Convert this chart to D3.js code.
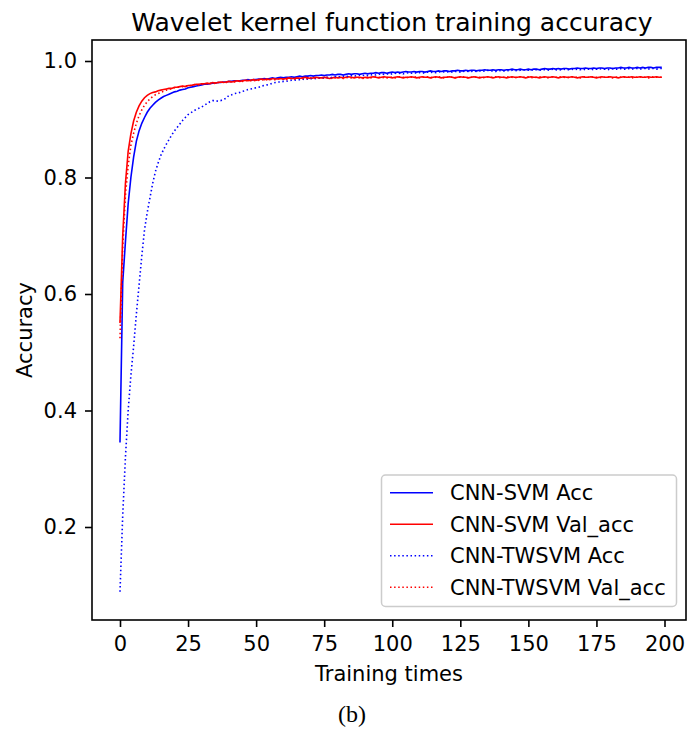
<!DOCTYPE html>
<html>
<head>
<meta charset="utf-8">
<script src="https://cdn.jsdelivr.net/npm/d3@7"></script>
<style>
  body { margin: 0; background: #fff; }
  text { font-family: "DejaVu Sans", sans-serif; fill: #000; }
</style>
</head>
<body>
<div class="chart"></div>
<script>
// epochs 0..199
let svmAcc = [
  0.345,0.620,0.690,0.755,0.800,0.835,0.862,0.880,0.893,0.903,
  0.912,0.919,0.924,0.929,0.933,0.936,0.939,0.941,0.943,0.945,
  0.947,0.948,0.950,0.951,0.952,0.954,0.955,0.956,0.957,0.958,
  0.959,0.960,0.960,0.961,0.962,0.962,0.963,0.963,0.964,0.964,
  0.965,0.965,0.966,0.966,0.966,0.967,0.967,0.968,0.967,0.968,
  0.968,0.969,0.969,0.970,0.969,0.970,0.971,0.970,0.971,0.972,
  0.971,0.972,0.972,0.973,0.972,0.973,0.974,0.973,0.974,0.974,
  0.975,0.974,0.975,0.975,0.976,0.975,0.976,0.976,0.977,0.976,
  0.977,0.977,0.976,0.977,0.978,0.977,0.978,0.978,0.977,0.978,
  0.979,0.978,0.979,0.979,0.980,0.979,0.980,0.980,0.979,0.980,
  0.981,0.980,0.981,0.980,0.981,0.982,0.981,0.981,0.982,0.981,
  0.982,0.982,0.981,0.982,0.983,0.982,0.982,0.983,0.982,0.983,
  0.983,0.982,0.983,0.983,0.984,0.983,0.983,0.984,0.983,0.984,
  0.984,0.983,0.984,0.984,0.985,0.984,0.984,0.985,0.984,0.985,
  0.985,0.984,0.985,0.985,0.986,0.985,0.985,0.986,0.985,0.985,
  0.986,0.985,0.986,0.986,0.985,0.986,0.987,0.986,0.986,0.987,
  0.986,0.987,0.986,0.987,0.987,0.986,0.987,0.987,0.988,0.987,
  0.987,0.988,0.987,0.987,0.988,0.987,0.988,0.988,0.987,0.988,
  0.988,0.987,0.988,0.988,0.989,0.988,0.988,0.989,0.988,0.988,
  0.989,0.988,0.989,0.988,0.989,0.989,0.988,0.989,0.989,0.989
]
let svmVal = [
  0.550,0.700,0.790,0.845,0.875,0.897,0.912,0.923,0.931,0.937,
  0.941,0.944,0.946,0.947,0.949,0.950,0.951,0.952,0.953,0.953,
  0.955,0.955,0.956,0.957,0.956,0.958,0.958,0.959,0.960,0.960,
  0.961,0.961,0.962,0.961,0.963,0.962,0.963,0.964,0.963,0.964,
  0.965,0.964,0.965,0.966,0.965,0.966,0.967,0.966,0.967,0.968,
  0.967,0.968,0.969,0.968,0.969,0.968,0.970,0.969,0.969,0.970,
  0.969,0.970,0.971,0.970,0.970,0.971,0.970,0.971,0.972,0.971,
  0.970,0.971,0.972,0.971,0.971,0.972,0.971,0.970,0.971,0.972,
  0.971,0.972,0.971,0.972,0.973,0.972,0.971,0.972,0.972,0.971,
  0.972,0.971,0.972,0.973,0.972,0.971,0.972,0.973,0.972,0.972,
  0.971,0.972,0.973,0.972,0.971,0.972,0.972,0.973,0.972,0.971,
  0.972,0.973,0.972,0.972,0.971,0.972,0.973,0.972,0.971,0.972,
  0.972,0.973,0.972,0.971,0.972,0.973,0.972,0.972,0.971,0.972,
  0.973,0.972,0.971,0.972,0.972,0.973,0.972,0.971,0.972,0.973,
  0.972,0.972,0.971,0.972,0.973,0.972,0.972,0.973,0.972,0.971,
  0.972,0.973,0.972,0.972,0.971,0.972,0.973,0.972,0.972,0.973,
  0.972,0.971,0.972,0.973,0.972,0.972,0.973,0.972,0.971,0.972,
  0.973,0.972,0.972,0.973,0.972,0.971,0.972,0.973,0.972,0.972,
  0.973,0.972,0.972,0.971,0.972,0.973,0.972,0.972,0.973,0.972,
  0.972,0.973,0.972,0.972,0.973,0.972,0.972,0.973,0.972,0.972
]
let twsvmAcc = [
  0.089,0.220,0.320,0.400,0.460,0.510,0.565,0.615,0.665,0.710,
  0.740,0.765,0.790,0.810,0.825,0.838,0.848,0.857,0.865,0.873,
  0.880,0.886,0.892,0.898,0.903,0.908,0.911,0.914,0.917,0.919,
  0.921,0.924,0.927,0.930,0.932,0.932,0.931,0.932,0.934,0.936,
  0.941,0.942,0.944,0.945,0.946,0.948,0.949,0.951,0.952,0.953,
  0.954,0.955,0.957,0.958,0.959,0.960,0.962,0.963,0.964,0.964,
  0.965,0.965,0.966,0.967,0.967,0.968,0.968,0.969,0.968,0.969,
  0.970,0.969,0.970,0.971,0.970,0.971,0.972,0.971,0.972,0.973,
  0.972,0.973,0.974,0.973,0.974,0.975,0.974,0.975,0.976,0.975,
  0.976,0.975,0.976,0.977,0.976,0.977,0.978,0.977,0.978,0.977,
  0.978,0.979,0.978,0.979,0.978,0.979,0.980,0.979,0.980,0.979,
  0.980,0.979,0.980,0.981,0.980,0.981,0.980,0.981,0.982,0.981,
  0.981,0.982,0.981,0.982,0.982,0.981,0.982,0.983,0.982,0.982,
  0.983,0.982,0.983,0.982,0.983,0.984,0.983,0.983,0.982,0.983,
  0.984,0.983,0.984,0.983,0.984,0.984,0.983,0.984,0.985,0.984,
  0.984,0.985,0.984,0.985,0.984,0.985,0.985,0.984,0.985,0.986,
  0.985,0.984,0.985,0.986,0.985,0.985,0.986,0.985,0.986,0.985,
  0.986,0.985,0.986,0.986,0.985,0.986,0.987,0.986,0.986,0.985,
  0.986,0.987,0.986,0.986,0.987,0.986,0.986,0.987,0.986,0.987,
  0.987,0.986,0.987,0.987,0.986,0.987,0.987,0.986,0.987,0.987
]
let twsvmVal = [
  0.524,0.680,0.770,0.820,0.855,0.876,0.893,0.906,0.916,0.924,
  0.930,0.935,0.939,0.942,0.944,0.946,0.948,0.950,0.951,0.953,
  0.954,0.955,0.955,0.956,0.957,0.958,0.958,0.959,0.960,0.959,
  0.960,0.961,0.961,0.962,0.961,0.962,0.963,0.963,0.964,0.963,
  0.964,0.965,0.964,0.965,0.966,0.965,0.966,0.967,0.966,0.967,
  0.966,0.967,0.968,0.967,0.968,0.969,0.968,0.968,0.969,0.970,
  0.969,0.968,0.969,0.970,0.969,0.970,0.971,0.970,0.969,0.970,
  0.971,0.970,0.971,0.971,0.970,0.971,0.972,0.971,0.970,0.971,
  0.972,0.971,0.970,0.971,0.972,0.971,0.972,0.972,0.971,0.970,
  0.971,0.972,0.971,0.972,0.973,0.972,0.971,0.972,0.971,0.972,
  0.972,0.971,0.972,0.973,0.972,0.971,0.972,0.972,0.973,0.972,
  0.971,0.972,0.972,0.973,0.972,0.971,0.972,0.973,0.972,0.971,
  0.972,0.973,0.972,0.971,0.972,0.972,0.973,0.972,0.971,0.972,
  0.973,0.972,0.972,0.971,0.972,0.973,0.972,0.972,0.973,0.972,
  0.971,0.972,0.973,0.972,0.972,0.971,0.972,0.973,0.972,0.972,
  0.973,0.972,0.971,0.972,0.973,0.972,0.972,0.971,0.972,0.973,
  0.972,0.972,0.973,0.972,0.971,0.972,0.973,0.972,0.972,0.971,
  0.972,0.973,0.972,0.972,0.973,0.972,0.971,0.972,0.972,0.973,
  0.972,0.971,0.972,0.973,0.972,0.972,0.973,0.972,0.971,0.972,
  0.972,0.973,0.972,0.972,0.971,0.972,0.973,0.972,0.972,0.972
]
let seriesNames = ["CNN-SVM Acc", "CNN-SVM Val_acc", "CNN-TWSVM Acc", "CNN-TWSVM Val_acc"]
let xTicks = [0, 25, 50, 75, 100, 125, 150, 175, 200]
let yTicks = [0.2, 0.4, 0.6, 0.8, 1.0]

let width = 687, height = 729
let box = { left: 92, right: 686, top: 40, bottom: 620 }
let fontSize = 21

let svg = d3.select(".chart")
  .append("svg")
  .attr("width", width)
  .attr("height", height)

let x = d3.scaleLinear().domain([0, 200]).range([120, 664.5])
let y = d3.scaleLinear().domain([0.2, 1.0]).range([527, 61])

let series = [
  { name: seriesNames[0], values: svmAcc, color: "#0000ff", dash: null },
  { name: seriesNames[1], values: svmVal, color: "#ff0000", dash: null },
  { name: seriesNames[2], values: twsvmAcc, color: "#0000ff", dash: "1.5,2.6" },
  { name: seriesNames[3], values: twsvmVal, color: "#ff0000", dash: "1.5,2.6" }
]

//裁剪区域
svg.append("clipPath").attr("id", "plot-clip")
  .append("rect")
  .attr("x", box.left).attr("y", box.top)
  .attr("width", box.right - box.left).attr("height", box.bottom - box.top)

let line = d3.line()
  .x((d, i) => x(i))
  .y((d) => y(d))

let lines = svg.append("g").attr("clip-path", "url(#plot-clip)")
lines.selectAll("path")
  .data(series)
  .enter()
  .append("path")
  .attr("d", (d) => line(d.values))
  .attr("fill", "none")
  .attr("stroke", (d) => d.color)
  .attr("stroke-width", 1.6)
  .attr("stroke-dasharray", (d) => d.dash)

//坐标轴
let xAxis = d3.axisBottom(x).tickValues(xTicks).tickSize(7).tickPadding(9).tickFormat(d3.format("d"))
let yAxis = d3.axisLeft(y).tickValues(yTicks).tickSize(7).tickPadding(8).tickFormat(d3.format(".1f"))

let gx = svg.append("g").attr("transform", `translate(0,${box.bottom})`).call(xAxis)
let gy = svg.append("g").attr("transform", `translate(${box.left},0)`).call(yAxis)
;[gx, gy].forEach((g) => {
  g.select(".domain").remove()
  g.selectAll(".tick line").attr("stroke", "#000").attr("stroke-width", 1.6)
  g.selectAll(".tick text").attr("font-size", fontSize).attr("font-family", "DejaVu Sans").attr("fill", "#000")
})

svg.append("rect")
  .attr("x", box.left).attr("y", box.top)
  .attr("width", box.right - box.left).attr("height", box.bottom - box.top)
  .attr("fill", "none")
  .attr("stroke", "#000")
  .attr("stroke-width", 1.6)

//标题和轴标签
svg.append("text")
  .attr("x", (box.left + box.right) / 2 + 3).attr("y", 31)
  .attr("text-anchor", "middle")
  .attr("font-size", 25)
  .text("Wavelet kernel function training accuracy")

svg.append("text")
  .attr("x", (box.left + box.right) / 2).attr("y", 681)
  .attr("text-anchor", "middle")
  .attr("font-size", fontSize)
  .text("Training times")

svg.append("text")
  .attr("transform", `translate(32,${(box.top + box.bottom) / 2}) rotate(-90)`)
  .attr("text-anchor", "middle")
  .attr("font-size", fontSize)
  .text("Accuracy")

svg.append("text")
  .attr("x", 352).attr("y", 722)
  .attr("text-anchor", "middle")
  .attr("font-size", 24)
  .style("font-family", "'Liberation Serif', serif")
  .text("(b)")

//图例
let legend = svg.append("g")
legend.append("rect")
  .attr("x", 381.5).attr("y", 475)
  .attr("width", 295).attr("height", 131.5)
  .attr("rx", 4)
  .attr("fill", "rgba(255,255,255,0.8)")
  .attr("stroke", "#cccccc")
  .attr("stroke-width", 1.5)

let items = legend.selectAll("g.item")
  .data(series)
  .enter()
  .append("g")
  .attr("transform", (d, i) => `translate(0,${492.7 + i * 31.5})`)
items.append("line")
  .attr("x1", 390).attr("x2", 433)
  .attr("stroke", (d) => d.color)
  .attr("stroke-width", 1.6)
  .attr("stroke-dasharray", (d) => d.dash)
items.append("text")
  .attr("x", 450).attr("dy", "0.36em")
  .attr("font-size", fontSize)
  .text((d) => d.name)
</script>
</body>
</html>
